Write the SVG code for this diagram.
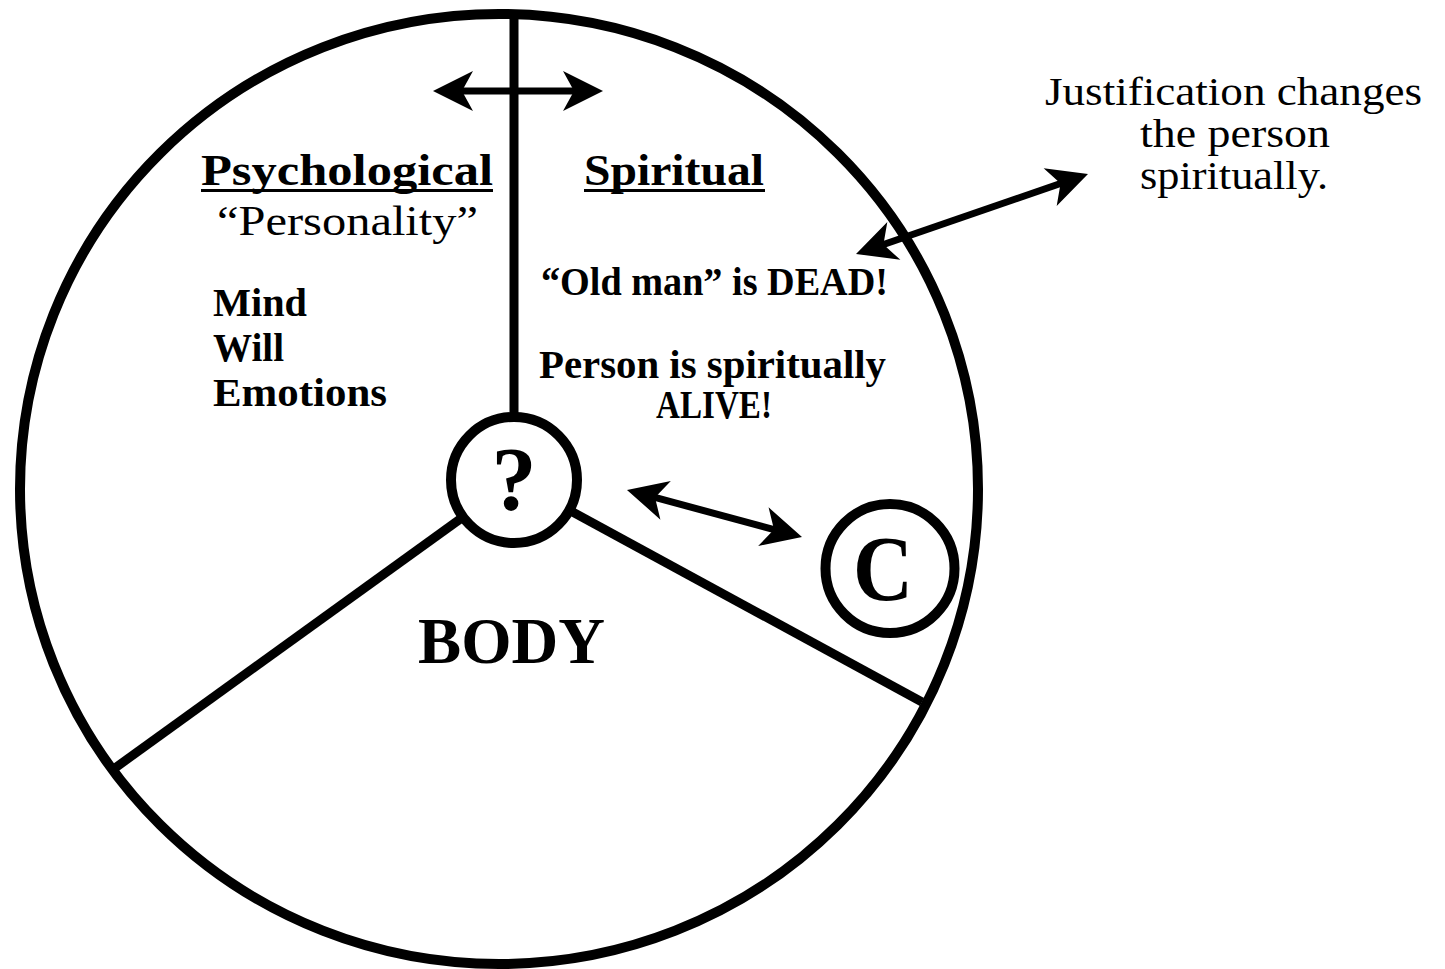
<svg xmlns="http://www.w3.org/2000/svg" width="1445" height="969" viewBox="0 0 1445 969">
<style>
.t{font-family:"Liberation Serif","Times New Roman",serif;fill:#000}
.b{font-weight:bold}
.stk{fill:none;stroke:#000;stroke-width:10}
.sp{stroke:#000;stroke-width:9;stroke-linecap:butt}
.ar{stroke:#000;stroke-width:7;fill:none}
.ul{stroke:#000;stroke-width:3}
</style>
<defs>
<marker id="ah" markerUnits="userSpaceOnUse" markerWidth="44" markerHeight="44" refX="14" refY="20" orient="auto-start-reverse" overflow="visible">
<path d="M40,20 L0,0 L11,20 L0,40 Z" fill="#000"/>
</marker>
</defs>
<rect width="1445" height="969" fill="#fff"/>
<g id="outline">
<ellipse class="stk" cx="499" cy="489" rx="479" ry="475"/>
</g>
<g id="connectors">
<line class="sp" x1="514" y1="18" x2="514" y2="414"/>
<line class="sp" x1="463" y1="517" x2="115" y2="768"/>
<line class="sp" x1="569" y1="510" x2="922" y2="702"/>
<line class="ar" x1="459" y1="91" x2="577" y2="91" marker-start="url(#ah)" marker-end="url(#ah)"/>
<line class="ar" x1="880.6" y1="245.5" x2="1063.4" y2="182.5" marker-start="url(#ah)" marker-end="url(#ah)"/>
<line class="ar" x1="652.1" y1="496.7" x2="776.9" y2="530.3" marker-start="url(#ah)" marker-end="url(#ah)"/>
</g>
<g id="node-question">
<circle cx="514" cy="480" r="63" fill="#fff" stroke="#000" stroke-width="10"/>
<text class="t b" x="514" y="510" font-size="90" text-anchor="middle">?</text>
</g>
<g id="node-c">
<circle cx="890" cy="568.5" r="64.5" fill="#fff" stroke="#000" stroke-width="10"/>
<text class="t b" x="883" y="600" font-size="94" text-anchor="middle" textLength="60" lengthAdjust="spacingAndGlyphs">C</text>
</g>
<g id="label-psychological">
<text class="t b" x="201" y="185" font-size="45" textLength="292" lengthAdjust="spacingAndGlyphs">Psychological</text>
<line class="ul" x1="201" y1="190.5" x2="493" y2="190.5"/>
<text class="t" x="217" y="235" font-size="43" textLength="261" lengthAdjust="spacingAndGlyphs">“Personality”</text>
<text class="t b" x="213" y="316" font-size="39" textLength="94" lengthAdjust="spacingAndGlyphs">Mind</text>
<text class="t b" x="213" y="361" font-size="39" textLength="71" lengthAdjust="spacingAndGlyphs">Will</text>
<text class="t b" x="213" y="406" font-size="39" textLength="174" lengthAdjust="spacingAndGlyphs">Emotions</text>
</g>
<g id="label-spiritual">
<text class="t b" x="584" y="185" font-size="45" textLength="180" lengthAdjust="spacingAndGlyphs">Spiritual</text>
<line class="ul" x1="584" y1="190.5" x2="765" y2="190.5"/>
<text class="t b" x="541" y="295" font-size="39" textLength="347" lengthAdjust="spacingAndGlyphs">“Old man” is DEAD!</text>
<text class="t b" x="539" y="378" font-size="39" textLength="347" lengthAdjust="spacingAndGlyphs">Person is spiritually</text>
<text class="t b" x="714" y="418" font-size="39" text-anchor="middle" textLength="116" lengthAdjust="spacingAndGlyphs">ALIVE!</text>
</g>
<g id="label-body">
<text class="t b" x="418" y="663" font-size="66" textLength="187" lengthAdjust="spacingAndGlyphs">BODY</text>
</g>
<g id="label-justification">
<text class="t" x="1045" y="105" font-size="40" textLength="377" lengthAdjust="spacingAndGlyphs">Justification changes</text>
<text class="t" x="1140" y="147" font-size="40" textLength="190" lengthAdjust="spacingAndGlyphs">the person</text>
<text class="t" x="1140" y="189" font-size="40" textLength="188" lengthAdjust="spacingAndGlyphs">spiritually.</text>
</g>
</svg>
